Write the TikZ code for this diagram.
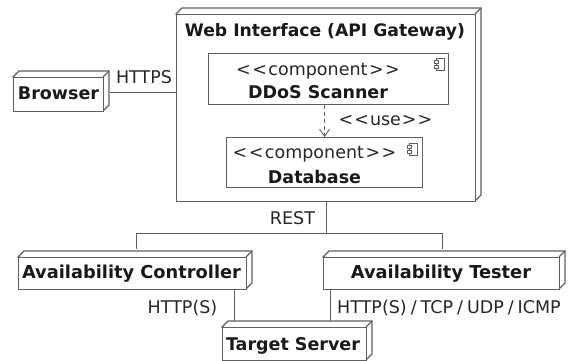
\documentclass[tikz,border=0pt]{standalone}
\usepackage{fontspec}
\setmainfont{DejaVu Sans}
\usetikzlibrary{arrows.meta}
\definecolor{ln}{HTML}{606060}
\tikzset{
  x=1pt,y=-1pt,
  wire/.style={draw=ln,line width=1.15pt},
  front/.style={draw=ln,line width=1.15pt,fill=white},
  title/.style={font=\fontsize{17.5}{20}\selectfont\bfseries,inner sep=0pt,text=black!90,anchor=base},
  lbl/.style={font=\fontsize{17.5}{20}\selectfont,inner sep=0pt,text=black!85,anchor=base},
  comp/.style={draw=ln,line width=1.15pt,fill=white,inner sep=0pt,anchor=north west},
}
\newcommand{\cube}[5]{% name,x1,y1,x2,y2
  \draw[front] (#2,#3) -- (#2+6,#3-6) -- (#4+6,#3-6) -- (#4+6,#5-6) -- (#4,#5) -- cycle;
  \draw[front] (#4,#3) -- (#4+6,#3-6);
  \node[comp,minimum width=#4pt-#2pt,minimum height=#5pt-#3pt] (#1) at (#2,#3) {};
}
\newcommand{\compicon}[2]{%
  \draw[wire,line width=0.8pt,fill=white] (#1+2,#2) rectangle (#1+10,#2+12);
  \draw[wire,line width=0.8pt,fill=white] (#1,#2+2) rectangle (#1+4,#2+5);
  \draw[wire,line width=0.8pt,fill=white] (#1,#2+7) rectangle (#1+4,#2+10);
}
\newcommand{\stereotext}{<\kern1.5pt<\kern1.5pt component\kern1.5pt>\kern1.5pt>}
\newcommand{\usetext}{<\kern1pt<\kern1pt use\kern1pt>\kern1pt>}
\newcommand{\slashgap}{\kern4pt/\kern4pt}
\begin{document}
\begin{tikzpicture}
\useasboundingbox (0,0) rectangle (582,361);
\fill[white] (0,0) rectangle (582,361);
\cube{web}{176}{14}{475}{201}
\cube{browser}{13}{77}{103}{111}
\cube{ctrl}{18}{257}{246}{289}
\cube{tester}{323}{257}{559}{289}
\cube{target}{222}{327}{366}{360}
\coordinate (split) at ([yshift=-31pt]web.south);
\draw[wire] (web.south) -- (split);
\draw[wire] ([xshift=4pt,yshift=8pt]ctrl.north) |- (split) -| ([xshift=1pt,yshift=8pt]tester.north);
\draw[wire] ([xshift=6pt,yshift=2pt]browser.east) -- ([yshift=15.5pt]web.west);
\draw[wire] ([xshift=102pt]ctrl.south) -- ([xshift=-60pt,yshift=6pt]target.north);
\draw[wire] ([xshift=-111pt]tester.south) -- ([xshift=36pt,yshift=6pt]target.north);
\node[comp,minimum width=240pt,minimum height=51pt] (ddos) at (208,53) {};
\node[comp,minimum width=196pt,minimum height=50pt] (db) at (226,137) {};
\compicon{434}{58}
\compicon{407}{143}
\draw[wire,line width=0.9pt,dash pattern=on 4pt off 3pt,-{Straight Barb[length=7pt,width=10pt]}] (ddos.south -| db.north) -- (db.north);
\node[title,font=\fontsize{17.2}{20}\selectfont\bfseries] at (325,37) {Web Interface (API Gateway)};
\node[lbl] at (318,76) {\stereotext};
\node[title] at (318,99) {DDoS Scanner};
\node[lbl] at (314.5,159) {\stereotext};
\node[title] at (314.5,183) {Database};
\node[lbl] at (385.5,126) {\usetext};
\node[title] at (58.5,100) {Browser};
\node[title,font=\fontsize{17.8}{20}\selectfont\bfseries] at (131.5,278) {Availability Controller};
\node[title,font=\fontsize{17.8}{20}\selectfont\bfseries] at (441,278) {Availability Tester};
\node[title] at (293,350) {Target Server};
\node[lbl] at (144,84) {HTTPS};
\node[lbl] at (292.5,225) {REST};
\node[lbl] at (182.5,313) {HTTP(S)};
\node[lbl] at (449,313) {HTTP(S)\slashgap TCP\slashgap UDP\slashgap ICMP};
\end{tikzpicture}
\end{document}
